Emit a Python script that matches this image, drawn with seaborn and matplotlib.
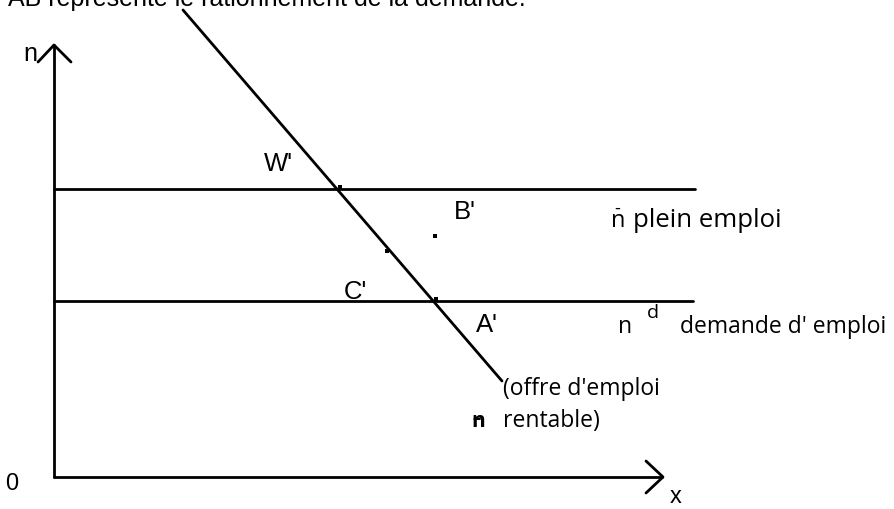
import matplotlib
matplotlib.use("Agg")
import matplotlib.pyplot as plt
import seaborn as sns
import pandas as pd

sns.set_theme(style="white")
plt.rcParams['font.family'] = ['Liberation Sans', 'DejaVu Sans']
plt.rcParams['text.color'] = 'black'

# ---- diagram data (pixel-space coordinates of the schematic) ----
seg_names = ["axis_n", "axis_x", "plein_emploi", "demande_emploi", "offre_emploi",
             "arrow_n", "arrow_x"]
seg_x = [[54, 54], [54, 662], [54, 695], [54, 693], [183, 502],
         [38, 54, 71], [646, 663, 646]]
seg_y = [[477, 45], [477, 477], [189, 189], [301, 301], [10, 381],
         [62, 45, 62], [461, 477, 493]]

point_x = [340, 436, 387, 435]
point_y = [187, 299, 251, 236]

point_labels = ["W'", "B'", "C'", "A'"]
point_label_x = [278, 465, 355, 487]
point_label_y = [164, 212, 292, 325]

title_text = "AB représente le rationnement de la demande."

rows = []
for name, xs, ys in zip(seg_names, seg_x, seg_y):
    for i, (a, b) in enumerate(zip(xs, ys)):
        rows.append({"seg": name, "order": i, "x": a, "y": b})
df = pd.DataFrame(rows)
pts = pd.DataFrame({"x": point_x, "y": point_y})

fig = plt.figure(figsize=(8.95, 5.09), dpi=100)
ax = fig.add_axes([0, 0, 1, 1])

sns.lineplot(data=df, x="x", y="y", units="seg", estimator=None, sort=False,
             color="black", lw=2.0, ax=ax, legend=False)
sns.scatterplot(data=pts, x="x", y="y", color="black", s=5, marker="s",
                edgecolor="none", ax=ax, legend=False)

ax.set_xlim(0, 895)
ax.set_ylim(509, 0)
ax.axis("off")

arial = ['Liberation Sans', 'DejaVu Sans']
human = ['Open Sans', 'DejaVu Sans']
K = "black"

ax.text(8, 6, title_text, fontsize=18, family=arial, ha="left", va="baseline", color=K)
ax.text(30, 54, "n", fontsize=18, family=arial, ha="center", va="center", color=K)
ax.text(12, 484, "0", fontsize=17, family=arial, ha="center", va="center", color=K)
ax.text(676, 497, "x", fontsize=17, family=arial, ha="center", va="center", color=K)

for lab, lx, ly in zip(point_labels, point_label_x, point_label_y):
    ax.text(lx, ly, lab, fontsize=18.5, family=arial, ha="center", va="center", color=K)

# n-bar  plein emploi
ax.text(618, 227, "n", fontsize=17, family=human, ha="center", va="baseline", color=K)
ax.text(617, 214, "-", fontsize=13, family=human, ha="center", va="baseline", color=K)
ax.text(633, 227, "plein emploi", fontsize=18.5, family=human, ha="left", va="baseline", color=K)

# n^d demande d'emploi
ax.text(625, 333, "n", fontsize=16.5, family=human, ha="center", va="baseline", color=K)
ax.text(653, 318, "d", fontsize=14, family=human, ha="center", va="baseline", color=K)
ax.text(680, 333, "demande d' emploi", fontsize=16.5, family=human, ha="left", va="baseline", color=K)

# offre d'emploi rentable
ax.text(503, 395, "(offre d'emploi", fontsize=16.5, family=human, ha="left", va="baseline", color=K)
ax.text(478, 427, "n", fontsize=15, family=human, ha="center", va="baseline", weight="bold", color=K)
ax.text(477, 424, "–", fontsize=12, family=human, ha="center", va="baseline", weight="bold", color=K)
ax.text(503, 427, "rentable)", fontsize=16.5, family=human, ha="left", va="baseline", color=K)

fig.savefig("out.png", dpi=100)
